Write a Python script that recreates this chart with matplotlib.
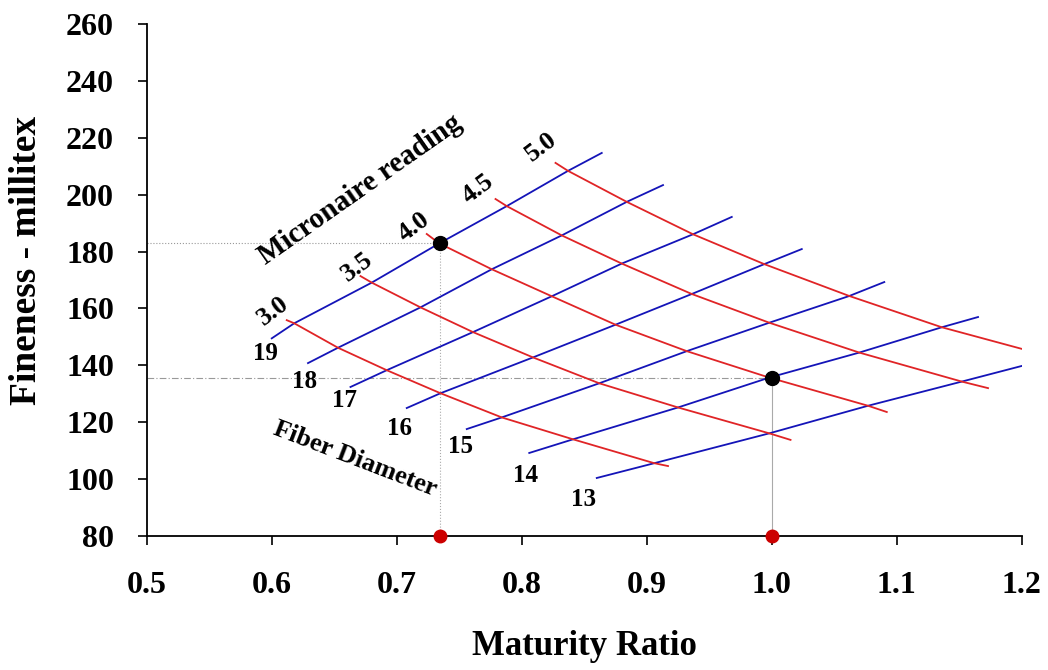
import numpy as np
import matplotlib
matplotlib.use("Agg")
import matplotlib.pyplot as plt

plt.rcParams['font.family'] = ['Liberation Serif', 'DejaVu Serif']
plt.rcParams['font.weight'] = 'bold'

nan = np.nan

# fiber diameter lines (blue) and micronaire lines (red)
diam_labels = ['19', '18', '17', '16', '15', '14', '13']
mic_labels = ['3.0', '3.5', '4.0', '4.5', '5.0']

# grid crossings, rows = diameter, cols = micronaire
cross_x = [
    [0.618, 0.680, 0.734, 0.788, 0.837],
    [0.653, 0.719, 0.776, 0.832, 0.884],
    [0.692, 0.761, 0.824, 0.880, 0.937],
    [0.735, 0.809, 0.875, 0.936, 0.994],
    [0.784, 0.862, 0.932, 0.998, 1.062],
    [0.841, 0.925, 0.998, 1.070, 1.136],
    [0.906, 0.998, 1.077, 1.152, nan],
]
cross_y = [
    [154.8, 169.1, 182.9, 196.0, 208.4],
    [146.2, 160.4, 173.8, 185.7, 197.5],
    [138.3, 151.7, 164.3, 175.8, 186.1],
    [130.2, 142.8, 154.3, 165.1, 175.6],
    [121.7, 133.7, 145.0, 155.0, 164.4],
    [114.0, 125.2, 135.7, 144.5, 153.4],
    [105.6, 116.1, 125.8, 134.3, nan],
]

diam_start_x = [0.600, 0.629, 0.663, 0.708, 0.756, 0.806, 0.860]
diam_start_y = [149.5, 140.8, 132.4, 125.0, 117.6, 109.2, 100.4]
diam_end_x = [0.864, 0.913, 0.968, 1.024, 1.090, 1.165, 1.200]
diam_end_y = [214.7, 203.4, 192.2, 180.9, 169.3, 157.0, 139.8]

mic_start_x = [0.612, 0.671, 0.724, 0.779, 0.827]
mic_start_y = [155.9, 171.4, 186.2, 198.5, 211.2]
mic_end_x = [0.917, 1.015, 1.092, 1.173, 1.200]
mic_end_y = [104.6, 113.8, 123.6, 132.0, 145.8]

# two example samples
sample_mr = [0.735, 1.0]
sample_fine = [183, 135.5]

cx = np.array(cross_x)
cy = np.array(cross_y)

fig = plt.figure(figsize=(10.48, 6.70), dpi=100)
ax = fig.add_axes([0.140, 0.200, 0.835, 0.764])

for i in range(len(diam_labels)):
    xs = [diam_start_x[i]] + list(cx[i]) + [diam_end_x[i]]
    ys = [diam_start_y[i]] + list(cy[i]) + [diam_end_y[i]]
    pts = [(a, b) for a, b in zip(xs, ys) if not np.isnan(a)]
    ax.plot([p[0] for p in pts], [p[1] for p in pts], color='#1414b8', lw=1.3, zorder=3)

for j in range(len(mic_labels)):
    xs = [mic_start_x[j]] + list(cx[:, j]) + [mic_end_x[j]]
    ys = [mic_start_y[j]] + list(cy[:, j]) + [mic_end_y[j]]
    pts = [(a, b) for a, b in zip(xs, ys) if not np.isnan(a)]
    ax.plot([p[0] for p in pts], [p[1] for p in pts], color='#e02426', lw=1.3, zorder=3)

# reference lines
h_styles = [':', (0, (6, 2, 1, 2))]
v_styles = [':', '-']
for m, f, hs, vs in zip(sample_mr, sample_fine, h_styles, v_styles):
    ax.plot([0.5, m], [f, f], color='#999999', lw=0.8, ls=hs, zorder=1)
    ax.plot([m, m], [80, f], color='#aaaaaa', lw=0.8, ls=vs, zorder=1)
ax.plot(sample_mr, sample_fine, 'o', color='black', ms=10, zorder=5)
ax.plot(sample_mr, [80, 80], 'o', color='#cc0000', ms=9, zorder=5, clip_on=False)

# labels for the diameter lines
diam_txt_x = [0.595, 0.626, 0.658, 0.702, 0.751, 0.803, 0.849]
diam_txt_y = [144.2, 134.3, 127.8, 117.9, 111.4, 101.4, 92.7]
for lab, tx, ty in zip(diam_labels, diam_txt_x, diam_txt_y):
    ax.text(tx, ty, lab, fontsize=18, fontweight='bold', ha='center', va='center')

mic_txt_x = [0.601, 0.6685, 0.714, 0.765, 0.8155]
mic_txt_y = [159.1, 174.6, 188.6, 202.0, 216.8]
for lab, tx, ty in zip(mic_labels, mic_txt_x, mic_txt_y):
    ax.text(tx, ty, lab, fontsize=19, fontweight='bold', ha='center', va='center', rotation=37)

ax.text(0.671, 201.7, 'Micronaire reading', fontsize=21, fontweight='bold',
        ha='center', va='center', rotation=35)
ax.text(0.667, 107.1, 'Fiber Diameter', fontsize=19, fontweight='bold',
        ha='center', va='center', rotation=-21)

ax.set_xlim(0.5, 1.2)
ax.set_ylim(80, 260)
ax.set_xticks(np.arange(0.5, 1.21, 0.1))
ax.set_xticklabels(['0.5', '0.6', '0.7', '0.8', '0.9', '1.0', '1.1', '1.2'])
ax.set_yticks(np.arange(80, 261, 20))
ax.spines['top'].set_visible(False)
ax.spines['right'].set_visible(False)
ax.spines['left'].set_linewidth(1.3)
ax.spines['bottom'].set_linewidth(1.3)
ax.tick_params(axis='both', direction='out', length=6.5, width=1.2, labelsize=23)
ax.tick_params(axis='x', pad=18.5)
ax.tick_params(axis='y', pad=17)
for lab in ax.get_xticklabels() + ax.get_yticklabels():
    lab.set_fontweight('bold')

ax.set_xlabel('Maturity Ratio', fontsize=25, fontweight='bold', labelpad=22)
ax.set_ylabel('Fineness - millitex', fontsize=27, fontweight='bold')
ax.yaxis.set_label_coords(-0.117, 0.539)

fig.savefig('out.png', dpi=100)
